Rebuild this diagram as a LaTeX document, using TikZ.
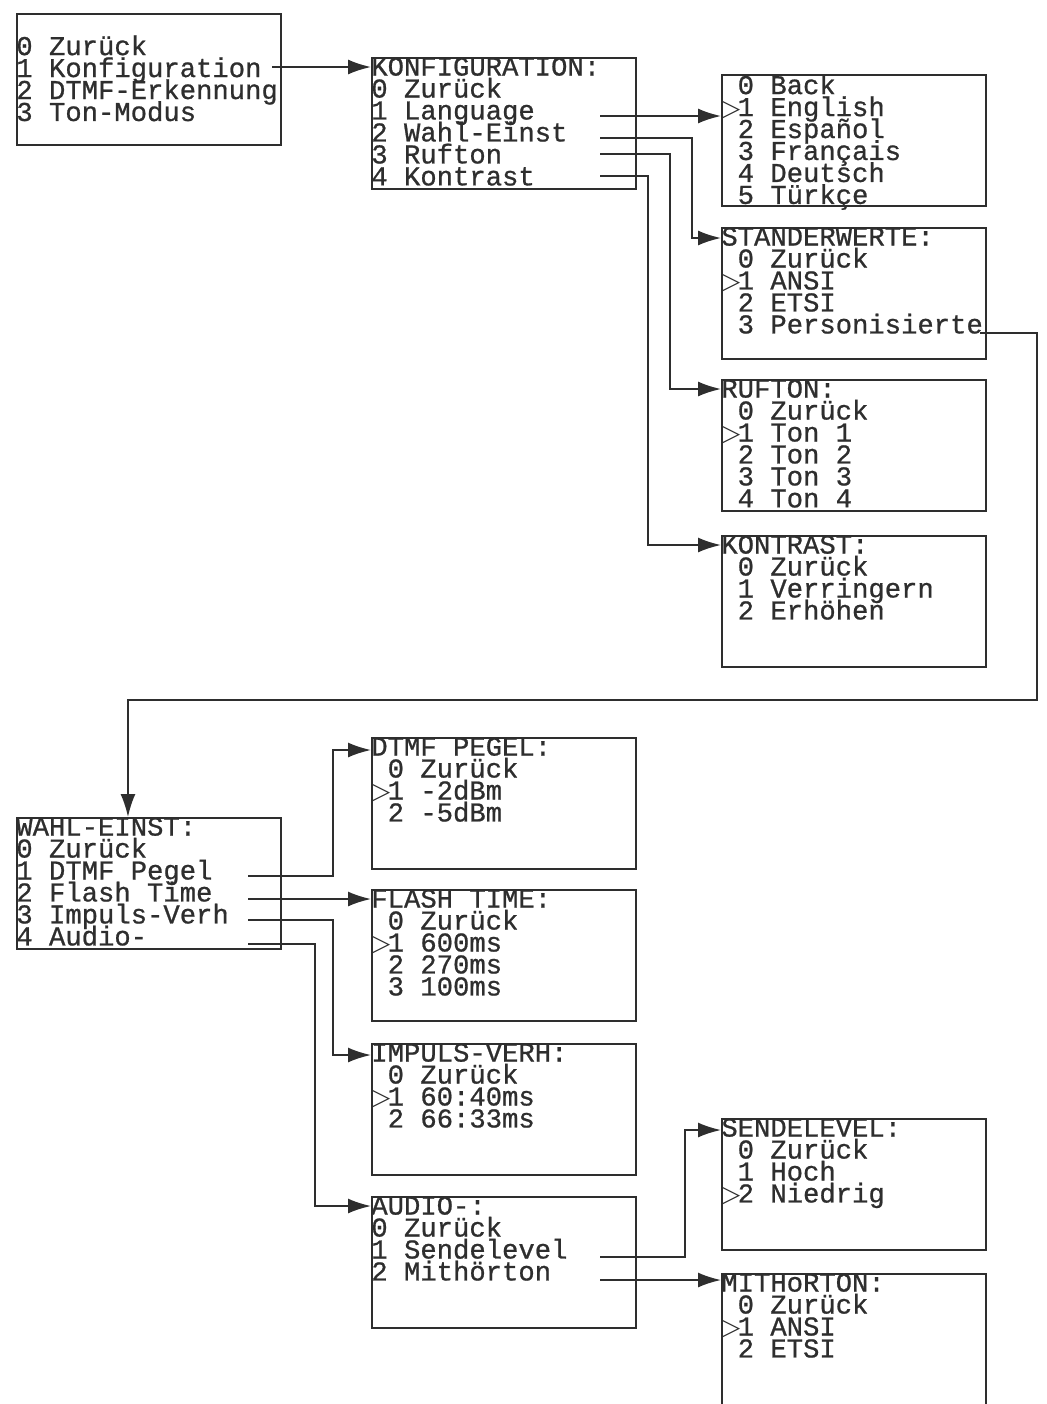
\documentclass[tikz,border=0pt]{standalone}
\usepackage{fontspec}
\usetikzlibrary{arrows.meta}
\newfontfamily\lcdface[FakeBold=0.8]{Liberation Mono}
\newfontfamily\markface{DejaVu Sans}
\definecolor{lcd}{HTML}{2E2E2E}
\newcommand\lcdfont{\lcdface\fontsize{15.5}{12.5}\selectfont\lineskiplimit=-\maxdimen}
\newcommand\pad{\hphantom{0}}
\newcommand\sel{\makebox[0.6em][l]{\markface\fontsize{14}{14}\selectfont ▷}}

\begin{document}
\begin{tikzpicture}[x=0.02cm, y=-0.02cm]
    \tikzset{menu/.style={
        draw=lcd,
        line width=1.2pt,
        anchor=north west,
        inner sep=0pt,
        minimum width=5.28cm,
        minimum height=2.62cm
    }}
    \tikzset{rows/.style={
        anchor=north west,
        inner sep=0pt,
        align=left,
        text=lcd,
        font=\lcdfont
    }}
    \tikzset{arrow/.style={
        draw=lcd,
        line width=1pt,
        -{Latex[length=0.46cm, width=0.3cm]}
    }}
    \useasboundingbox (0,0) rectangle (1046,1404);
    \clip (0,0) rectangle (1046,1404);

    % menu screens
    \node[menu] (main) at (16,13) {};
    \node[menu] (konf) at (371,57) {};
    \node[menu] (lang) at (721,74) {};
    \node[menu] (std) at (721,227) {};
    \node[menu] (ruf) at (721,379) {};
    \node[menu] (kon) at (721,535) {};
    \node[menu] (wahl) at (16,817) {};
    \node[menu] (dtmf) at (371,737) {};
    \node[menu] (flash) at (371,889) {};
    \node[menu] (imp) at (371,1043) {};
    \node[menu] (aud) at (371,1196) {};
    \node[menu] (send) at (721,1118) {};
    \node[menu, minimum height=3cm] (mith) at (721,1273) {};

    \node[rows] (main-t) at ([yshift=-0.44cm]main.north west) {0 Zurück\\1 Konfiguration\\2 DTMF-Erkennung\\3 Ton-Modus};
    \node[rows] (konf-t) at (konf.north west) {KONFIGURATION:\\0 Zurück\\1 Language\\2 Wahl-Einst\\3 Rufton\\4 Kontrast};
    \node[rows] (lang-t) at (lang.north west) {\pad0 Back\\\sel1 English\\\pad2 Español\\\pad3 Français\\\pad4 Deutsch\\\pad5 Türkçe};
    \node[rows] (std-t) at (std.north west) {STANDERWERTE:\\\pad0 Zurück\\\sel1 ANSI\\\pad2 ETSI\\\pad3 Personisierte};
    \node[rows] (ruf-t) at (ruf.north west) {RUFTON:\\\pad0 Zurück\\\sel1 Ton 1\\\pad2 Ton 2\\\pad3 Ton 3\\\pad4 Ton 4};
    \node[rows] (kon-t) at (kon.north west) {KONTRAST:\\\pad0 Zurück\\\pad1 Verringern\\\pad2 Erhöhen};
    \node[rows] (wahl-t) at (wahl.north west) {WAHL-EINST:\\0 Zurück\\1 DTMF Pegel\\2 Flash Time\\3 Impuls-Verh\\4 Audio-};
    \node[rows] (dtmf-t) at (dtmf.north west) {DTMF PEGEL:\\\pad0 Zurück\\\sel1 -2dBm\\\pad2 -5dBm};
    \node[rows] (flash-t) at (flash.north west) {FLASH TIME:\\\pad0 Zurück\\\sel1 600ms\\\pad2 270ms\\\pad3 100ms};
    \node[rows] (imp-t) at (imp.north west) {IMPULS-VERH:\\\pad0 Zurück\\\sel1 60:40ms\\\pad2 66:33ms};
    \node[rows] (aud-t) at (aud.north west) {AUDIO-:\\0 Zurück\\1 Sendelevel\\2 Mithörton};
    \node[rows] (send-t) at (send.north west) {SENDELEVEL:\\\pad0 Zurück\\\pad1 Hoch\\\sel2 Niedrig};
    \node[rows] (mith-t) at (mith.north west) {MITHoRTON:\\\pad0 Zurück\\\sel1 ANSI\\\pad2 ETSI};

    % links
    \coordinate (main-1) at (272,67);
    \draw[arrow] (main-1) -- (main-1 -| konf.west);

    \coordinate (konf-1) at (600,116);
    \coordinate (konf-2) at (600,138);
    \coordinate (konf-3) at (600,154);
    \coordinate (konf-4) at (600,176);
    \draw[arrow] (konf-1) -- (konf-1 -| lang.west);
    \draw[arrow] (konf-2) -- ++(92,0) |- ([yshift=-0.22cm]std.north west);
    \draw[arrow] (konf-3) -- ++(70,0) |- ([yshift=-0.2cm]ruf.north west);
    \draw[arrow] (konf-4) -- ++(48,0) |- ([yshift=-0.2cm]kon.north west);

    \coordinate (std-3) at (980,333);
    \draw[arrow] (std-3) -- ++(57,0) -- ++(0,367) -| ([xshift=2.24cm]wahl.north west);

    \coordinate (wahl-1) at (248,876);
    \coordinate (wahl-2) at (248,899);
    \coordinate (wahl-3) at (248,920);
    \coordinate (wahl-4) at (248,944);
    \draw[arrow] (wahl-1) -- ++(85,0) |- ([yshift=-0.26cm]dtmf.north west);
    \draw[arrow] (wahl-2) -- (wahl-2 -| flash.west);
    \draw[arrow] (wahl-3) -- ++(85,0) |- ([yshift=-0.24cm]imp.north west);
    \draw[arrow] (wahl-4) -- ++(67,0) |- ([yshift=-0.2cm]aud.north west);

    \coordinate (aud-1) at (600,1257);
    \coordinate (aud-2) at (600,1280);
    \draw[arrow] (aud-1) -- ++(85,0) |- ([yshift=-0.24cm]send.north west);
    \draw[arrow] (aud-2) -- (aud-2 -| mith.west);
\end{tikzpicture}
\end{document}
